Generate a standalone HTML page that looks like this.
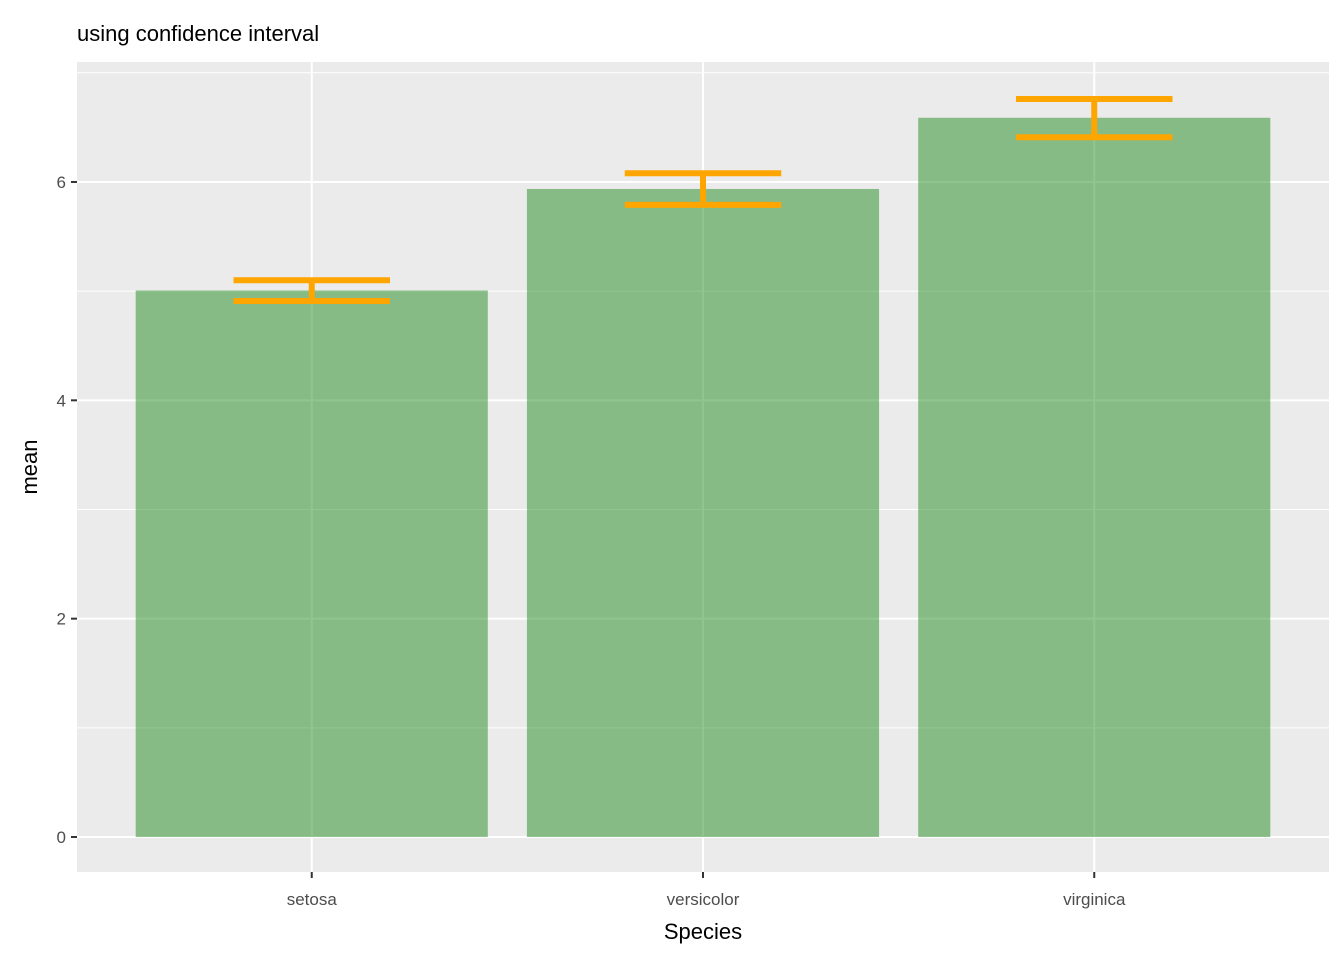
<!DOCTYPE html>
<html><head><meta charset="utf-8"><style>body{margin:0;background:#fff}svg{display:block;font-family:"Liberation Sans",Arial,sans-serif}</style></head>
<body>
<svg id="chart" width="1344" height="960" xmlns="http://www.w3.org/2000/svg">
<rect width="1344" height="960" fill="#fff"/>
<text x="77" y="41" font-size="22" fill="#000">using confidence interval</text>
<rect x="77" y="62" width="1252" height="810" fill="#EBEBEB"/>
<g id="grid"></g><g id="bars"></g><g id="axes"></g>
<text x="703" y="939" font-size="22" text-anchor="middle" fill="#000">Species</text>
<text transform="translate(37,467) rotate(-90)" font-size="22" text-anchor="middle" fill="#000">mean</text>
</svg>
<script>
const categories = ["setosa","versicolor","virginica"];
const means = [5.006, 5.936, 6.588];
const ciLow = [4.91, 5.79, 6.41];
const ciHigh = [5.10, 6.08, 6.76];
const yTicks = [0,2,4,6];
const yMinor = [1,3,5,7];

const NS="http://www.w3.org/2000/svg";
const px0=77, px1=1329, y0px=837, perUnit=109.17;
const step=(px1-px0)/3.2*1.0; // discrete scale: 3 cats with 0.6 expansion
const y=v=>y0px-v*perUnit;
const x=i=>px0+step*(0.6+i);
function mk(tag,attrs,parent){const e=document.createElementNS(NS,tag);for(const k in attrs)e.setAttribute(k,attrs[k]);parent.appendChild(e);return e;}
const grid=document.getElementById('grid'),bars=document.getElementById('bars'),axes=document.getElementById('axes');
yMinor.forEach(v=>{const l=mk('line',{x1:px0,x2:px1,y1:y(v),y2:y(v),stroke:'#fff','stroke-width':1},grid);

});
yTicks.forEach(v=>{const l=mk('line',{x1:px0,x2:px1,y1:y(v),y2:y(v),stroke:'#fff','stroke-width':2},grid);


const t=mk('line',{x1:71,x2:77,y1:y(v),y2:y(v),stroke:'#333','stroke-width':2},axes);


const tx=mk('text',{x:66,y:y(v)+6,'font-size':17,'text-anchor':'end',fill:'#4D4D4D'},axes);tx.textContent=v;

});
categories.forEach((c,i)=>{const cx=x(i);
const g=mk('line',{x1:cx,x2:cx,y1:62,y2:872,stroke:'#fff','stroke-width':2},grid);


const bw=step*0.9;
const b=mk('rect',{x:cx-bw/2,y:y(means[i]),width:bw,height:y(0)-y(means[i]),fill:'#228B22','fill-opacity':0.5},bars);


const ew=step*0.4;
const eg=mk('g',{stroke:'#FFA500','stroke-width':6,fill:'none'},bars);


mk('line',{x1:cx-ew/2,x2:cx+ew/2,y1:y(ciHigh[i]),y2:y(ciHigh[i])},eg);
mk('line',{x1:cx-ew/2,x2:cx+ew/2,y1:y(ciLow[i]),y2:y(ciLow[i])},eg);
mk('line',{x1:cx,x2:cx,y1:y(ciHigh[i]),y2:y(ciLow[i])},eg);
const t=mk('line',{x1:cx,x2:cx,y1:872,y2:878,stroke:'#333','stroke-width':2},axes);


const tx=mk('text',{x:cx,y:905,'font-size':17,'text-anchor':'middle',fill:'#4D4D4D'},axes);tx.textContent=c;

});
</script>
</body></html>
